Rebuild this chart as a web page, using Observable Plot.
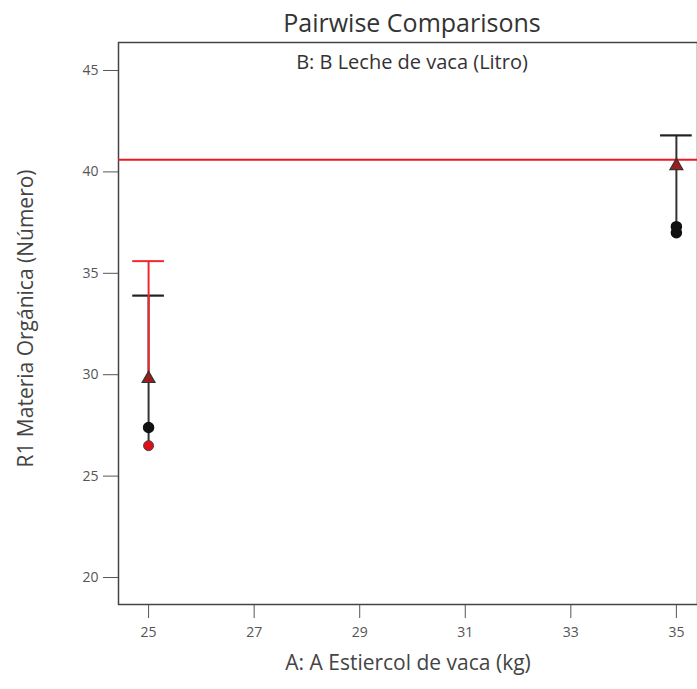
<!DOCTYPE html>
<html>
<head>
<meta charset="utf-8">
<script src="https://cdn.jsdelivr.net/npm/d3@7"></script>
<script src="https://cdn.jsdelivr.net/npm/@observablehq/plot@0.6"></script>
<style>
  body { margin: 0; background: #fff; }
  svg { font-family: "Open Sans", "Noto Sans", sans-serif; }
</style>
</head>
<body>
<div id="chart"></div>
<script>
// Factor A levels (kg) and the pairwise comparison readings for R1
const levelsA = [25, 35];
const blackUpper = [33.9, 41.8];     // black LSD bar tops
const blackLower = [26.5, 37.0];     // black LSD bar bottoms
const redUpper = [35.6, null];       // red LSD bar top (at 25 only)
const triangleY = [29.8, 40.3];      // predicted points (triangles)
const blackDotX = [25, 35, 35];
const blackDotY = [27.4, 37.3, 37.0];
const redDotX = [25];
const redDotY = [26.5];
const referenceLine = 40.6;
const yTicks = [20, 25, 30, 35, 40, 45];
const xTicks = [25, 27, 29, 31, 33, 35];
const xLabel = "A: A Estiercol de vaca (kg)";
const yLabel = "R1 Materia Orgánica (Número)";

const capHalf = 0.3;

const blackBars = levelsA.map((x, i) => ({x, y1: blackLower[i], y2: blackUpper[i]}));
const redBars = levelsA.map((x, i) => ({x, y1: triangleY[i], y2: redUpper[i]})).filter(d => d.y2 != null);
const triangles = levelsA.map((x, i) => ({x, y: triangleY[i]}));
const blackDots = blackDotX.map((x, i) => ({x, y: blackDotY[i]}));
const redDots = redDotX.map((x, i) => ({x, y: redDotY[i]}));

const chart = Plot.plot({
  width: 697,
  height: 689,
  marginLeft: 118,
  marginRight: 0,
  marginTop: 42,
  marginBottom: 85,
  style: {fontSize: "14px", color: "#555", background: "#fff"},
  x: {domain: [24.43, 35.4]},
  y: {domain: [18.67, 46.38]},
  marks: [
    Plot.axisX({ticks: xTicks, tickSize: 14, tickPadding: 9, stroke: "#555", fill: "#555", fontSize: 14, label: null}),
    Plot.axisY({ticks: yTicks, tickSize: 15, tickPadding: 5, stroke: "#555", fill: "#555", fontSize: 14, label: null}),
    Plot.text([xLabel], {frameAnchor: "bottom", lineAnchor: "middle", dy: 59, fontSize: 21, fill: "#444"}),
    Plot.text([yLabel], {frameAnchor: "left", dx: -92, dy: -5, rotate: -90, textAnchor: "middle", fontSize: 21, fill: "#444"}),
    Plot.frame({stroke: "#444", strokeWidth: 1.5}),
    Plot.ruleY([referenceLine], {stroke: "#f01820", strokeWidth: 2}),
    // black bars and caps
    Plot.ruleX(blackBars, {x: "x", y1: "y1", y2: "y2", stroke: "#333", strokeWidth: 2}),
    Plot.ruleY(blackBars, {y: "y2", x1: d => d.x - capHalf, x2: d => d.x + capHalf, stroke: "#222", strokeWidth: 2.2}),
    // red bar and cap
    Plot.ruleX(redBars, {x: "x", y1: "y1", y2: "y2", stroke: "#f0282e", strokeWidth: 2}),
    Plot.ruleY(redBars, {y: "y2", x1: d => d.x - capHalf, x2: d => d.x + capHalf, stroke: "#f0282e", strokeWidth: 2}),
    Plot.dot(blackDots, {x: "x", y: "y", r: 5, fill: "#111", stroke: "#111"}),
    Plot.dot(redDots, {x: "x", y: "y", r: 5, fill: "#e01018", stroke: "#444", strokeWidth: 1}),
    Plot.dot(triangles, {x: "x", y: "y", symbol: "triangle", r: 4.8, fill: "#9a1c1c", stroke: "#333", strokeWidth: 1.2}),
    // title and subtitle
    Plot.text(["Pairwise Comparisons"], {frameAnchor: "top", lineAnchor: "middle", dx: 4, dy: -19, fontSize: 25, fill: "#333"}),
    Plot.text(["B: B Leche de vaca (Litro)"], {frameAnchor: "top", lineAnchor: "middle", dx: 4, dy: 20, fontSize: 20, fill: "#333"})
  ]
});

document.getElementById("chart").appendChild(chart);
</script>
</body>
</html>
